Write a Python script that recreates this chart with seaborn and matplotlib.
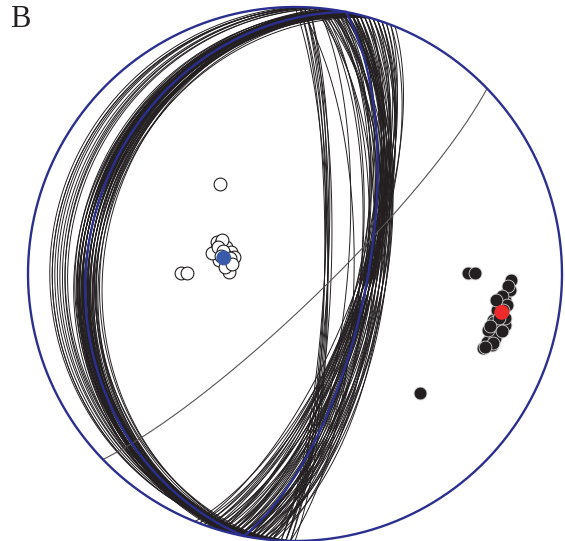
import numpy as np
import pandas as pd
import seaborn as sns
import matplotlib.pyplot as plt

# planes: strike / dip (right-hand rule), lower hemisphere equal-area net
w_strike = [186, 188, 189, 190, 190, 191, 191, 192, 192, 193, 193, 194, 194, 195, 195, 196,
            188, 189, 190, 191, 192, 193, 194, 195, 196, 197, 190, 192, 194, 187, 191, 193,
            189, 191, 193, 195, 190, 192, 194, 196, 188, 190, 192, 194, 191, 193, 189, 195]
w_dip = [26, 24, 22, 25, 21, 23, 27, 20, 24, 22, 26, 21, 25, 23, 19, 22,
         28, 20, 23, 24, 21, 25, 22, 20, 24, 21, 19, 27, 23, 22, 20, 24,
         29, 26, 28, 25, 22, 23, 21, 27, 23, 24, 22, 26, 25, 21, 27, 23]

w_out_strike = [180, 181, 182, 183, 184, 185, 182, 184, 186, 183]
w_out_dip = [9, 12, 15, 10, 14, 16, 11, 13, 15, 10]

e_strike = [4, 5, 5, 6, 6, 7, 7, 8, 8, 9, 9, 10, 10, 10, 11, 11, 12, 12, 12, 13,
            13, 14, 14, 15, 15, 16, 16, 17, 17, 18, 18, 19, 19, 20, 21, 21, 22,
            5, 7, 9, 11, 13, 15, 17, 19, 6, 8, 10, 12, 14, 16, 18, 20, 11, 13, 8, 10, 12, 14]
e_dip = [66, 68, 63, 70, 65, 62, 67, 69, 64, 66, 62, 68, 64, 70, 65, 63, 67, 63, 69, 66,
         68, 67, 70, 66, 69, 67, 71, 68, 66, 70, 67, 69, 68, 70, 68, 71, 69,
         70, 63, 69, 65, 71, 67, 69, 70, 64, 67, 63, 66, 68, 70, 67, 69, 66, 67, 65, 62, 64, 69]

mid_strike = [0, 1, 1, 2, 2, 3, 3, 2]
mid_dip = [80, 81, 80, 81, 80, 81, 80, 79]

odd_strike = [5, 1]
odd_dip = [74, 72]

gray_strike = 46
gray_dip = 81

mean_strike = [191, 11]
mean_dip = [23, 68]

# lines: trend / plunge
open_trend = [320.2, 292.3, 292.7, 291.4, 286.9, 289.0, 285.6, 279.2, 271.7, 280.4,
              284.2, 295.0, 285.2, 270.5, 270.5, 289.3, 287.7, 283.8, 275.7, 283.7, 279.0]
open_plunge = [53.7, 64.1, 65.4, 67.3, 64.6, 69.3, 70.6, 68.9, 69.8, 66.3,
               63.7, 65.3, 67.8, 54.7, 56.9, 65.0, 66.9, 69.6, 68.5, 66.7, 70.5]

solid_trend = [89.7, 89.7, 91.6, 94.9, 97.1, 98.6, 101.5, 103.1, 105.1, 104.0, 103.7,
               106.1, 108.0, 109.6, 107.8, 111.6, 109.9, 94.3, 133.8,
               93.2, 96.1, 98.3, 100.1, 101.8, 103.6, 105.4, 106.2, 109.2, 111.0,
               102.2, 104.9, 99.8, 97.4]
solid_plunge = [35.6, 33.1, 20.2, 21.4, 21.9, 23.4, 23.9, 24.9, 24.6, 22.0, 20.2,
                22.4, 24.3, 24.8, 22.5, 25.3, 22.6, 20.4, 35.6,
                21.2, 23.1, 20.8, 24.2, 20.7, 24.3, 20.7, 25.7, 22.5, 24.8,
                22.9, 25.4, 22.0, 25.1]

blue_mean = (282.7, 67.7)
red_mean = (100.5, 22.3)


def project(e, n, z):
    k = 1.0 / np.sqrt(1.0 - z)
    return e * k, n * k


def great_circle(strike, dip):
    s, d = np.radians(strike), np.radians(dip)
    t = np.linspace(0, np.pi, 300)
    sv = np.array([np.sin(s), np.cos(s), 0.0])
    dv = np.array([np.sin(s + np.pi / 2) * np.cos(d), np.cos(s + np.pi / 2) * np.cos(d), -np.sin(d)])
    v = np.outer(np.cos(t), sv) + np.outer(np.sin(t), dv)
    return project(v[:, 0], v[:, 1], v[:, 2])


def lines_df(trend, plunge):
    tr, pl = np.radians(trend), np.radians(plunge)
    x, y = project(np.cos(pl) * np.sin(tr), np.cos(pl) * np.cos(tr), -np.sin(pl))
    return pd.DataFrame({'x': x, 'y': y})


sns.set_style('white')
fig = plt.figure(figsize=(5.65, 5.41), dpi=100)
ax = fig.add_axes([0, 0, 1, 1])
ax.set_xlim(-295 / 267, 270 / 267)
ax.set_ylim(-267 / 267, 274 / 267)
ax.set_aspect('equal')
ax.axis('off')

black = '#231f20'
navy = '#2b2f8e'

for strikes, dips in [(w_out_strike, w_out_dip), (w_strike, w_dip), (e_strike, e_dip),
                      (mid_strike, mid_dip), (odd_strike, odd_dip)]:
    for s, d in zip(strikes, dips):
        x, y = great_circle(s, d)
        ax.plot(x, y, color=black, lw=0.7, zorder=2)

x, y = great_circle(gray_strike, gray_dip)
ax.plot(x, y, color='#555555', lw=0.8, zorder=2)

for s, d in zip(mean_strike, mean_dip):
    x, y = great_circle(s, d)
    ax.plot(x, y, color=navy, lw=1.7, zorder=3)

a = np.linspace(0, 2 * np.pi, 400)
ax.plot(np.cos(a), np.sin(a), color=navy, lw=1.7, zorder=3, clip_on=False)

sns.scatterplot(data=lines_df(open_trend, open_plunge), x='x', y='y', ax=ax, s=85,
                color='white', edgecolor=black, linewidth=0.8, zorder=4)
sns.scatterplot(data=lines_df(solid_trend, solid_plunge), x='x', y='y', ax=ax, s=85,
                color=black, edgecolor='#cccccc', linewidth=0.6, zorder=4)
sns.scatterplot(data=lines_df([blue_mean[0]], [blue_mean[1]]), x='x', y='y', ax=ax, s=115,
                color='#3a5ba9', edgecolor='none', zorder=5)
sns.scatterplot(data=lines_df([red_mean[0]], [red_mean[1]]), x='x', y='y', ax=ax, s=115,
                color='#ee2a2a', edgecolor='none', zorder=5)

fig.text(10 / 565, 1 - 5 / 541, 'B', ha='left', va='top', fontsize=22,
         family='Liberation Serif', color=black)

fig.savefig('out.png', dpi=100)
